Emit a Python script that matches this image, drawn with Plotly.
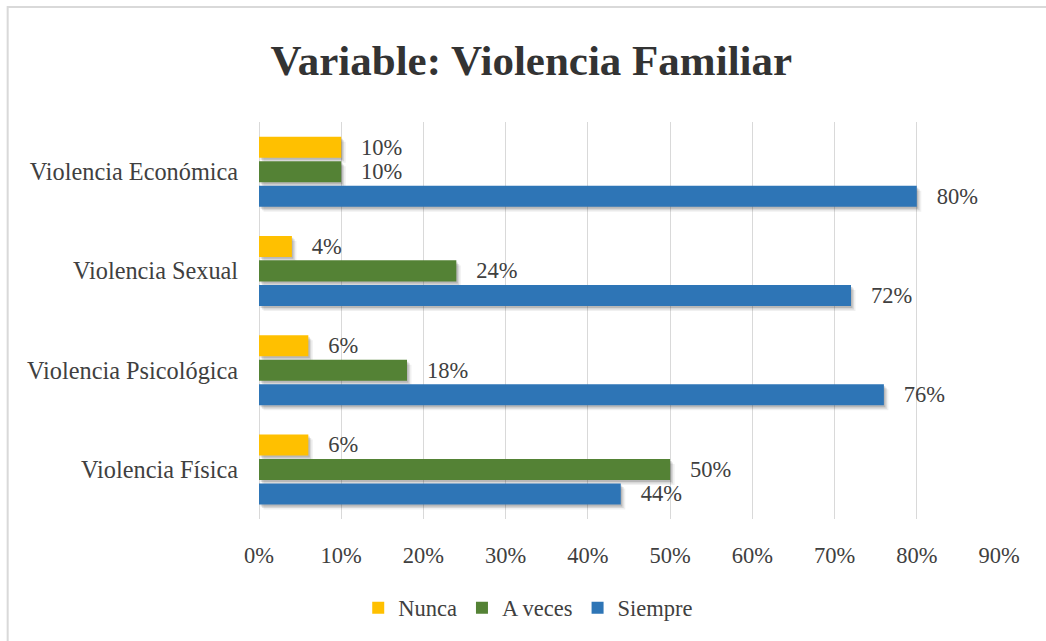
import plotly.graph_objects as go

categories = ["Violencia Física", "Violencia Psicológica", "Violencia Sexual", "Violencia Económica"]
nunca = [6, 6, 4, 10]
a_veces = [50, 18, 24, 10]
siempre = [44, 76, 72, 80]
x_ticks = [0, 10, 20, 30, 40, 50, 60, 70, 80, 90]

FONT = "Liberation Serif"
TXT = "#404040"

W, H = 1046, 641
ml, mr, mt, mb = 258.5, 47, 122, 122
pw, ph = W - ml - mr, H - mt - mb
cat_px = ph / len(categories)
bar_w = 21 / cat_px
slot = 24.5 / cat_px

series = [
    ("Siempre", siempre, "#2E75B6", -slot),
    ("A veces", a_veces, "#548235", 0.0),
    ("Nunca", nunca, "#FFC000", slot),
]

fig = go.Figure()
# soft shadow layers
for dy, dx, alpha in [(5, 0.55, 0.06), (3.5, 0.35, 0.10), (2, 0.18, 0.14)]:
    for name, vals, color, center in series:
        fig.add_trace(go.Bar(
            y=categories, x=vals, orientation="h", base=dx,
            width=bar_w, offset=center - bar_w / 2 - dy / cat_px,
            marker=dict(color=f"rgba(0,0,0,{alpha})", line=dict(width=0)),
            showlegend=False, hoverinfo="skip",
        ))
for name, vals, color, center in series:
    fig.add_trace(go.Bar(
        y=categories, x=vals, name=name, orientation="h",
        width=bar_w, offset=center - bar_w / 2,
        marker=dict(color=color, line=dict(width=0)),
        text=[f"\u00a0\u00a0\u00a0{v}%" for v in vals],
        textposition="outside", cliponaxis=False, constraintext="none",
        textfont=dict(family=FONT, size=22.5, color=TXT),
    ))

fig.update_layout(
    width=W, height=H,
    margin=dict(l=ml, r=mr, t=mt, b=mb, pad=0),
    paper_bgcolor="white", plot_bgcolor="white",
    barmode="overlay",
    font=dict(family=FONT, color=TXT, size=22),
    title=dict(text="<b>Variable: Violencia Familiar</b>", x=0.508, xref="container",
               y=1 - 60 / H, yref="container", xanchor="center", yanchor="middle",
               font=dict(family=FONT, size=43, color="#333333")),
    xaxis=dict(range=[0, 90], tickvals=x_ticks, ticktext=[f"{v}%" for v in x_ticks],
               showgrid=True, gridcolor="#d9d9d9", gridwidth=1.3,
               zeroline=True, zerolinecolor="#d9d9d9", zerolinewidth=1.3,
               showline=False, ticks="outside", ticklen=16, tickcolor="rgba(0,0,0,0)",
               tickfont=dict(family=FONT, size=22.5, color=TXT), fixedrange=True),
    yaxis=dict(categoryorder="array", categoryarray=categories, showgrid=False,
               showline=False, ticks="outside", ticklen=15, tickcolor="rgba(0,0,0,0)",
               tickfont=dict(family=FONT, size=24.3, color=TXT)),
    legend=dict(orientation="h", traceorder="reversed", xref="container", yref="container",
                x=0.505, y=1 - 608 / H, xanchor="center", yanchor="middle",
                font=dict(family=FONT, size=22.5, color=TXT), itemwidth=30),
    showlegend=True,
)

# chart border (light gray frame, partly cropped at right/bottom)
fig.add_shape(type="rect", xref="paper", yref="paper",
              x0=(7 - ml) / pw, x1=(W + 10 - ml) / pw,
              y0=(H - mb - (H + 10)) / ph, y1=(H - mb - 7) / ph,
              line=dict(color="#d9d9d9", width=2), fillcolor="rgba(0,0,0,0)", layer="below")

fig.write_html("out.html", config={"displayModeBar": False},
               post_script="document.body.style.margin='0';document.body.style.overflow='hidden';")
